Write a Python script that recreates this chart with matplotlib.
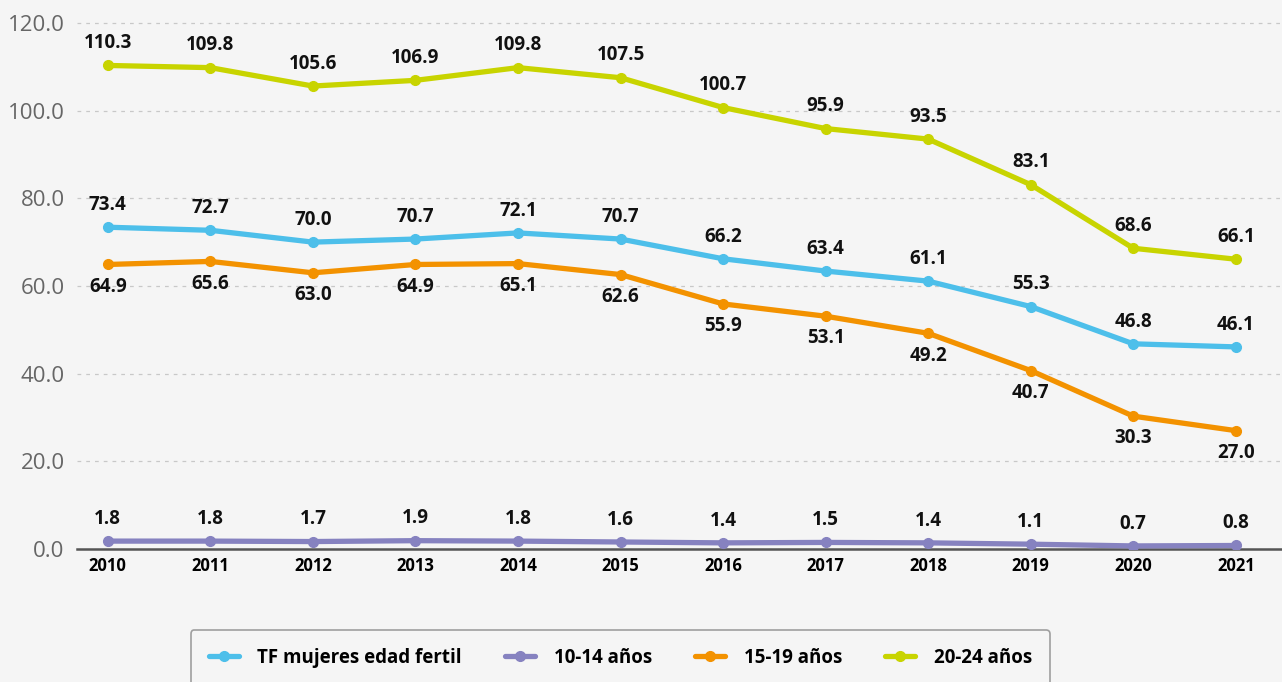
import matplotlib.pyplot as plt
from matplotlib.ticker import FuncFormatter

years = [2010, 2011, 2012, 2013, 2014, 2015, 2016, 2017, 2018, 2019, 2020, 2021]
tf_total = [73.4, 72.7, 70.0, 70.7, 72.1, 70.7, 66.2, 63.4, 61.1, 55.3, 46.8, 46.1]
tf_10_14 = [1.8, 1.8, 1.7, 1.9, 1.8, 1.6, 1.4, 1.5, 1.4, 1.1, 0.7, 0.8]
tf_15_19 = [64.9, 65.6, 63.0, 64.9, 65.1, 62.6, 55.9, 53.1, 49.2, 40.7, 30.3, 27.0]
tf_20_24 = [110.3, 109.8, 105.6, 106.9, 109.8, 107.5, 100.7, 95.9, 93.5, 83.1, 68.6, 66.1]

plt.rcParams['font.family'] = ['Open Sans', 'DejaVu Sans']
bg = '#f5f5f5'

fig = plt.figure(figsize=(12.82, 6.82), dpi=100, facecolor=bg)
ax = fig.add_axes([77 / 1282, 133 / 682, 1205 / 1282, 548 / 682], facecolor=bg)

# (label, values, colour, label offset in points)
series = [
    ('TF mujeres edad fertil', tf_total, '#4dbfea', 16),
    ('10-14 años', tf_10_14, '#8682c0', 16),
    ('15-19 años', tf_15_19, '#f39200', -16),
    ('20-24 años', tf_20_24, '#c8d400', 16),
]

for name, vals, col, dy in series:
    ax.plot(years, vals, color=col, lw=3.8, marker='o', ms=7, label=name,
            solid_capstyle='round', zorder=3)
    for x, v in zip(years, vals):
        ax.annotate(f'{v:.1f}', (x, v), xytext=(0, dy), textcoords='offset points',
                    ha='center', va='center', fontsize=13.5, fontweight='bold',
                    color='#111111')

ax.set_xlim(2009.70, 2021.45)
ax.set_ylim(0, 125)
ax.set_yticks([0, 20, 40, 60, 80, 100, 120])
ax.yaxis.set_major_formatter(FuncFormatter(lambda v, p: f'{v:.1f}'))
ax.set_xticks(years)
ax.tick_params(axis='y', length=0, labelsize=16, labelcolor='#666666', pad=9)
ax.tick_params(axis='x', length=0, labelsize=12, pad=6)
for lab in ax.get_xticklabels():
    lab.set_fontweight('bold')

ax.grid(axis='y', color='#c8c8c8', ls=(0, (3, 4)), lw=0.9)
ax.set_axisbelow(True)
for s in ['top', 'right', 'left']:
    ax.spines[s].set_visible(False)
ax.spines['bottom'].set_color('#555555')
ax.spines['bottom'].set_linewidth(1.8)

leg = fig.legend(loc='upper center', bbox_to_anchor=(0.484, 52 / 682), ncol=4,
                 frameon=True, handlelength=1.6, columnspacing=2.3, handletextpad=1.0,
                 borderpad=0.95, borderaxespad=0,
                 prop={'weight': 'bold', 'size': 13.5})
leg.get_frame().set_edgecolor('#8a8a8a')
leg.get_frame().set_facecolor(bg)
leg.get_frame().set_linewidth(1.2)

fig.savefig('out.png', dpi=100, facecolor=bg)
